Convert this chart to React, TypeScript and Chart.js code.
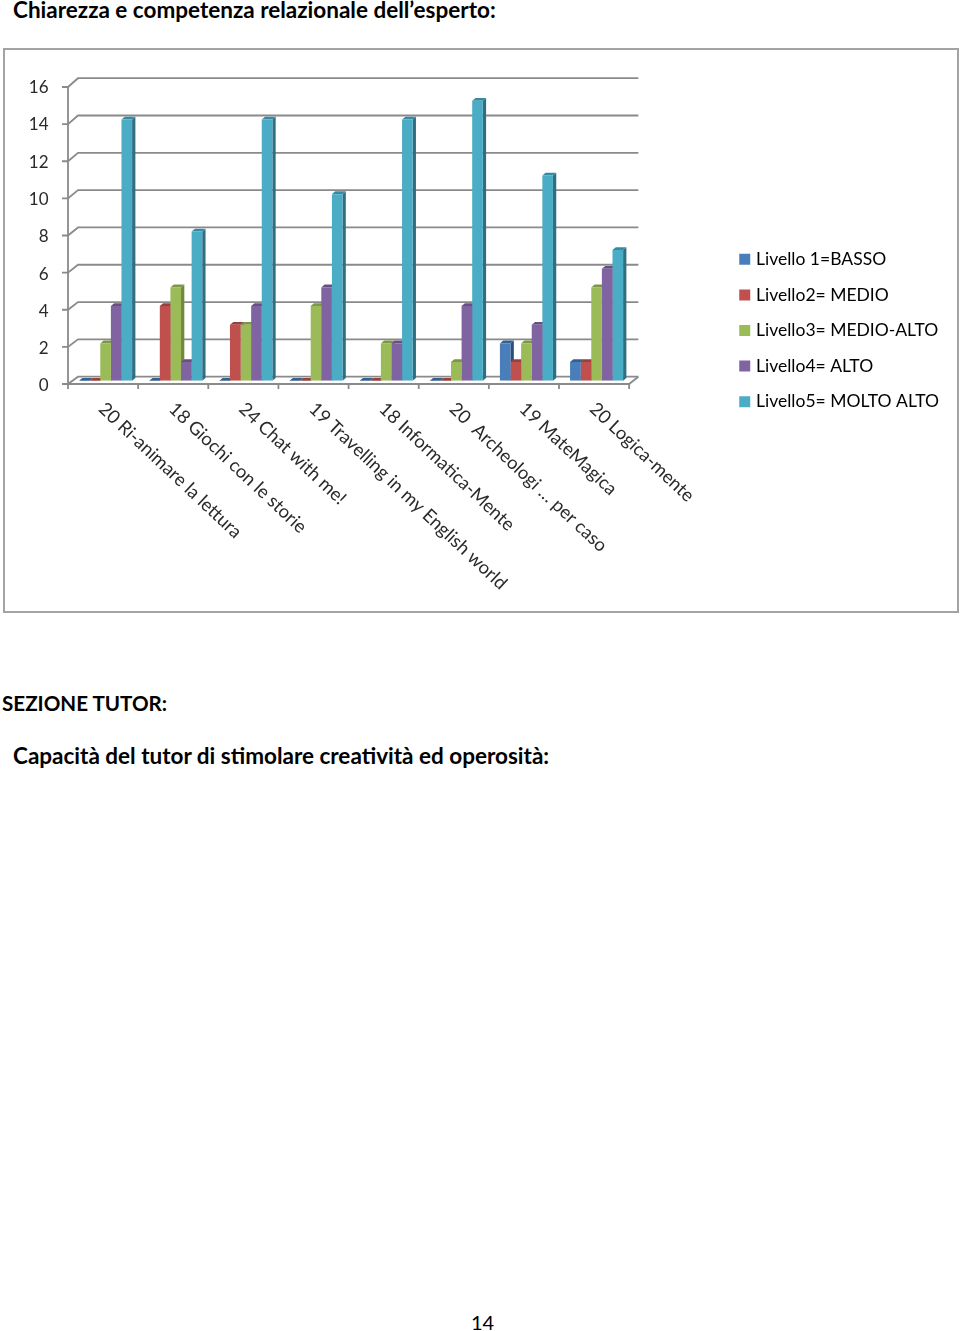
import React, { useEffect, useRef } from "react";
import { Chart, registerables } from "chart.js";

Chart.register(...registerables);

const categories = [
  "20 Ri-animare la lettura",
  "18 Giochi con le storie",
  "24 Chat with me!",
  "19 Travelling in my English world",
  "18 Informatica-Mente",
  "20  Archeologi … per caso",
  "19 MateMagica",
  "20 Logica-mente",
];
const livello1 = [0, 0, 0, 0, 0, 0, 2, 1];
const livello2 = [0, 4, 3, 0, 0, 0, 1, 1];
const livello3 = [2, 5, 3, 4, 2, 1, 2, 5];
const livello4 = [4, 1, 4, 5, 2, 4, 3, 6];
const livello5 = [14, 8, 14, 10, 14, 15, 11, 7];
const seriesNames = [
  "Livello 1=BASSO",
  "Livello2= MEDIO",
  "Livello3= MEDIO-ALTO",
  "Livello4= ALTO",
  "Livello5= MOLTO ALTO",
];
const faceColors = ["#4a7ebb", "#c0504d", "#9bbb59", "#8064a2", "#4bacc6"];
const sideColors = ["#2c4d75", "#8c3836", "#71893f", "#5c4776", "#2f6f82"];
const topColors = ["#34608f", "#98403d", "#7d9648", "#664f82", "#358ba2"];

const FONT = "Lato, 'Noto Sans', sans-serif";
const AXIS = "#8a8a8a";
const TEXT = "#2a2a2a";

const walls = {
  id: "walls",
  beforeDatasetsDraw(chart: any) {
    const { ctx, chartArea: a, scales } = chart;
    const y = scales.y;
    const backL = a.left + 7.5;
    const backR = a.right + 6.7;
    const frontL = a.left - 2.5;
    const frontR = a.right - 2.5;
    const base = y.getPixelForValue(0);
    const frontY = (p: number) => base + 3.3 - (base - p) * 0.995;
    ctx.save();
    ctx.strokeStyle = AXIS;
    ctx.lineWidth = 1.8;
    for (const t of y.ticks) {
      const p = y.getPixelForValue(t.value);
      ctx.beginPath();
      ctx.moveTo(frontL - 6, frontY(p));
      ctx.lineTo(frontL, frontY(p));
      ctx.lineTo(backL, p - 4);
      ctx.lineTo(backR, p - 4);
      ctx.stroke();
    }
    const fb = frontY(base);
    ctx.beginPath();
    ctx.moveTo(backR, base - 4);
    ctx.lineTo(frontR, fb);
    ctx.lineTo(frontL, fb);
    ctx.stroke();
    ctx.beginPath();
    ctx.moveTo(frontL, frontY(y.getPixelForValue(16)));
    ctx.lineTo(frontL, fb + 5);
    ctx.stroke();
    const n = categories.length;
    for (let i = 1; i <= n; i++) {
      const x = frontL + ((frontR - frontL) * i) / n;
      ctx.beginPath();
      ctx.moveTo(x, fb);
      ctx.lineTo(x, fb + 5);
      ctx.stroke();
    }
    // depth of the bars: side then top, series by series
    const d = 3.3;
    const h = 2.8;
    for (let c = 0; c < n; c++) {
      chart.data.datasets.forEach((_: any, s: number) => {
        const bar = chart.getDatasetMeta(s).data[c];
        const l = bar.x - bar.width / 2;
        const r = bar.x + bar.width / 2;
        const top = bar.y;
        const bottom = base;
        ctx.fillStyle = sideColors[s];
        ctx.beginPath();
        ctx.moveTo(r, top);
        ctx.lineTo(r + d, top - h);
        ctx.lineTo(r + d, bottom - h);
        ctx.lineTo(r, bottom);
        ctx.closePath();
        ctx.fill();
        ctx.fillStyle = topColors[s];
        ctx.beginPath();
        ctx.moveTo(l, top);
        ctx.lineTo(l + d, top - h);
        ctx.lineTo(r + d, top - h);
        ctx.lineTo(r, top);
        ctx.closePath();
        ctx.fill();
      });
    }
    ctx.restore();
  },
};

const slantedLabels = {
  id: "slantedLabels",
  afterDraw(chart: any) {
    const { ctx, scales } = chart;
    const x = scales.x;
    ctx.save();
    ctx.font = `18.4px ${FONT}`;
    ctx.fillStyle = TEXT;
    ctx.textAlign = "left";
    ctx.textBaseline = "middle";
    x.ticks.forEach((t: any, i: number) => {
      ctx.save();
      ctx.translate(x.getPixelForTick(i) - 4, 356);
      ctx.rotate((43.2 * Math.PI) / 180);
      ctx.fillText(x.getLabelForValue(t.value), 0, 0);
      ctx.restore();
    });
    ctx.restore();
  },
};

const seriesValues = [livello1, livello2, livello3, livello4, livello5];

function Text(p: { x: number; y: number; size: number; bold?: boolean; children: React.ReactNode }) {
  return (
    <div
      style={{
        position: "absolute",
        left: p.x,
        top: p.y,
        fontFamily: FONT,
        fontSize: p.size,
        fontWeight: p.bold ? 700 : 400,
        lineHeight: "24px",
        color: "#000",
        whiteSpace: "pre",
      }}
    >
      {p.children}
    </div>
  );
}

export default function App() {
  const ref = useRef<HTMLCanvasElement>(null);
  useEffect(() => {
    const chart = new Chart(ref.current!, {
      type: "bar",
      data: {
        labels: categories,
        datasets: seriesValues.map((data, i) => ({
          label: seriesNames[i],
          data,
          backgroundColor: faceColors[i],
          borderWidth: 0,
          barPercentage: 1,
          categoryPercentage: 0.756,
        })),
      },
      plugins: [walls, slantedLabels],
      options: {
        responsive: false,
        animation: false,
        layout: { padding: { top: 0, right: 9, left: 0, bottom: 0 } },
        plugins: {
          tooltip: { enabled: false },
          title: { display: false },
          legend: {
            display: true,
            position: "right",
            labels: {
              boxWidth: 5,
              boxHeight: 5,
              padding: 18.1,
              color: TEXT,
              font: { family: FONT, size: 17.5 },
              generateLabels: (c: any) =>
                c.data.datasets.map((ds: any, i: number) => ({
                  text: ds.label,
                  fillStyle: faceColors[i],
                  strokeStyle: faceColors[i],
                  lineWidth: 6,
                  hidden: false,
                  datasetIndex: i,
                })),
            },
          },
        },
        scales: {
          x: {
            grid: { display: false, drawTicks: false },
            border: { display: false },
            ticks: { display: false },
            afterFit: (s: any) => {
              s.height = 230.3;
            },
          },
          y: {
            min: 0,
            max: 16,
            grid: { display: false, drawTicks: false },
            border: { display: false },
            ticks: {
              stepSize: 2,
              padding: 22,
              labelOffset: 5.3,
              color: TEXT,
              font: { family: FONT, size: 17 },
            },
            afterFit: (s: any) => {
              s.width = 66.5;
            },
          },
          gap: {
            display: false,
            position: "right",
            afterFit: (s: any) => {
              s.width = 92.5;
            },
          },
          headroom: {
            display: false,
            position: "top",
            afterFit: (s: any) => {
              s.height = 32;
            },
          },
        },
      },
    } as any);
    return () => chart.destroy();
  }, []);
  return (
    <div style={{ position: "absolute", left: 0, top: 0, width: 960, height: 1331, overflow: "hidden", background: "#fff" }}>
      <Text x={13} y={-2} size={22.5} bold>Chiarezza e competenza relazionale dell’esperto:</Text>
      <div style={{ position: "absolute", left: 3, top: 48, width: 956, height: 565, boxSizing: "border-box", border: "2px solid #a3a3a3" }} />
      <canvas ref={ref} width={954} height={561} style={{ position: "absolute", left: 4, top: 50, width: 954, height: 561 }} />
      <Text x={2} y={691} size={20.6} bold>SEZIONE TUTOR:</Text>
      <Text x={13} y={744} size={22.5} bold>Capacità del tutor di stimolare creatività ed operosità:</Text>
      <Text x={471} y={1310} size={20}>14</Text>
    </div>
  );
}
